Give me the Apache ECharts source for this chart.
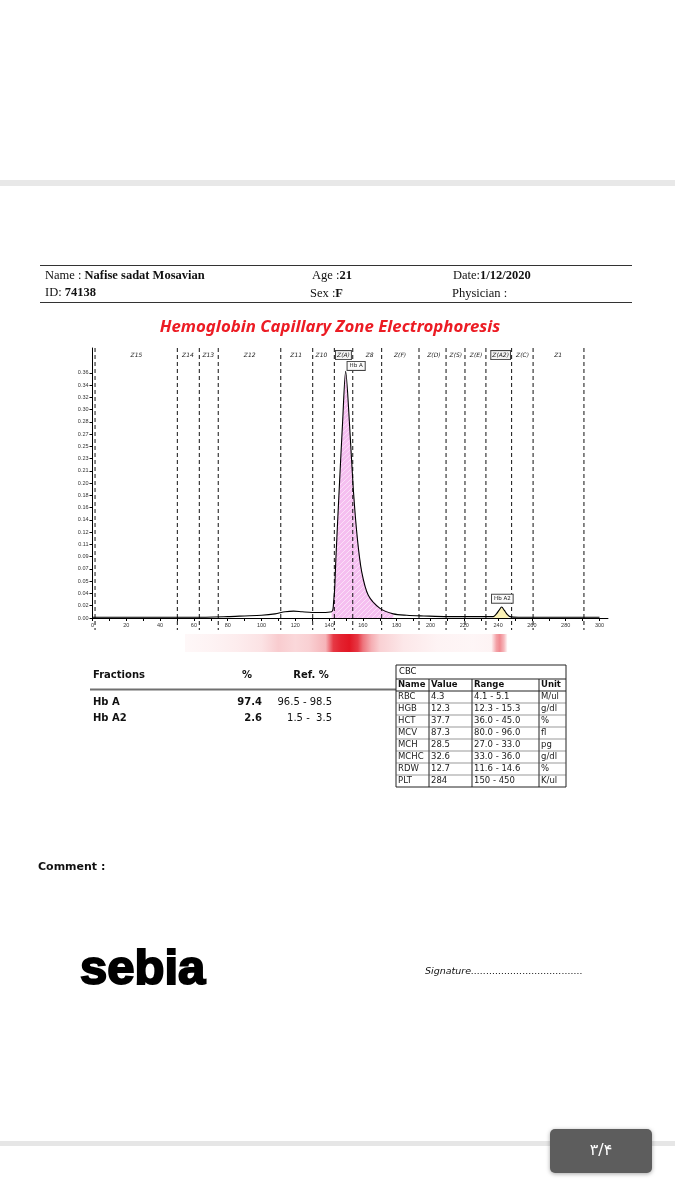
<!DOCTYPE html>
<html><head><meta charset="utf-8">
<script src="https://cdn.jsdelivr.net/npm/echarts@6/dist/echarts.min.js"></script>
<style>html,body{margin:0;padding:0;background:#fff}#c{width:675px;height:1200px}</style>
</head><body><div id="c"></div>
<script>
// ---------- data ----------
const curveX = [0,20,40,60,80,90,100,108,114,119,124,130,136,141.5,142.3,142.6,143.3,144.1,146.0,148.0,149.8,152.0,154.3,156.7,159.3,163.2,170.1,178,186,196,210,230,237,239,240.5,242.1,243.7,245.5,247,252,270,300];
const curveY = [0.001,0.001,0.001,0.001,0.002,0.003,0.004,0.006,0.009,0.010,0.009,0.008,0.008,0.009,0.013,0.021,0.043,0.091,0.188,0.285,0.358,0.285,0.188,0.116,0.067,0.033,0.014,0.006,0.004,0.003,0.002,0.002,0.002,0.006,0.011,0.016,0.011,0.005,0.002,0.001,0.001,0.001];
const hbARange = [141.5, 178];
const hbA2Range = [237, 247];
const zoneBounds = [1.5,50.2,63.2,74.4,111.4,130.3,143.1,154.0,171.1,193.2,209.2,220.4,232.8,248.0,260.7,290.8];
const zoneNames = ['Z15','Z14','Z13','Z12','Z11','Z10','Z(A)','Z8','Z(F)','Z(D)','Z(S)','Z(E)','Z(A2)','Z(C)','Z1'];
const zoneCenters = [26,56.5,68.5,93,120.5,135.5,148.5,164,182,202,215,227,241.5,254.5,275.5];
const boxedZones = ['Z(A)','Z(A2)'];
const peakNames = ['Hb A','Hb A2'];
const peakLabelX = [156, 242.5];
const peakLabelY = [0.366, 0.028];
const xTickValues = [0,20,40,60,80,100,120,140,160,180,200,220,240,260,280,300];
const xTickLabels = ['0','20','40','60','80','100','120','140','160','180','200','220','240','260','280','300'];
const xMinorTicks = [0,10,20,30,40,50,60,70,80,90,100,110,120,130,140,150,160,170,180,190,200,210,220,230,240,250,260,270,280,290,300];
const yTickValues = [0,0.0178,0.0356,0.0534,0.0712,0.089,0.1068,0.1246,0.1424,0.1602,0.178,0.1958,0.2136,0.2314,0.2492,0.267,0.2848,0.3026,0.3204,0.3382,0.356];
const yTickLabels = ['0.00','0.02','0.04','0.05','0.07','0.09','0.11','0.12','0.14','0.16','0.18','0.20','0.21','0.23','0.25','0.27','0.28','0.30','0.32','0.34','0.36'];
const gelX = [54.7,70,85,100,110,120,128,138,142.5,147,152,157,160,165,170,184,204,225,236,239,241,243.5,245.5];
const gelI = [0.03,0.05,0.08,0.12,0.22,0.17,0.2,0.32,0.85,0.95,1.0,0.85,0.6,0.35,0.2,0.1,0.05,0.04,0.05,0.4,0.5,0.3,0.02];
const fracNames = ['Hb A','Hb A2'];
const fracPct = ['97.4','2.6'];
const fracRef = ['96.5 - 98.5','1.5 -  3.5'];
const cbcHeader = ['Name','Value','Range','Unit'];
const cbcNames = ['RBC','HGB','HCT','MCV','MCH','MCHC','RDW','PLT'];
const cbcValues = ['4.3','12.3','37.7','87.3','28.5','32.6','12.7','284'];
const cbcRanges = ['4.1 - 5.1','12.3 - 15.3','36.0 - 45.0','80.0 - 96.0','27.0 - 33.0','33.0 - 36.0','11.6 - 14.6','150 - 450'];
const cbcUnits = ['M/ul','g/dl','%','fl','pg','g/dl','%','K/ul'];

// ---------- helpers ----------
const X_MAX = 305, Y_MAX = 0.392;
function hatch(bg, fg){
  const c=document.createElement('canvas'); c.width=c.height=5;
  const g=c.getContext('2d'); g.fillStyle=bg; g.fillRect(0,0,5,5);
  g.strokeStyle=fg; g.lineWidth=1; g.beginPath(); g.moveTo(0,5); g.lineTo(5,0); g.stroke();
  return c;
}
const curve = curveX.map((x,i)=>[x,curveY[i]]);
const inRange = r => curve.filter(p=>p[0]>=r[0]&&p[0]<=r[1]);
function nearestLabel(v){
  let best=0; for(let i=1;i<yTickValues.length;i++){ if(Math.abs(yTickValues[i]-v)<Math.abs(yTickValues[best]-v)) best=i; }
  return yTickLabels[best];
}

// ---------- graphic (page texts, tables) ----------
const G = [];
const SERIF = '"Liberation Serif", "DejaVu Serif", serif';
const SANS = '"DejaVu Sans", Verdana, sans-serif';
function txt(x,y,text,opt){ G.push({type:'text', x, y, silent:true, style:Object.assign({text, fill:'#111', font:'11px '+SANS, textAlign:'left', textVerticalAlign:'middle'}, opt||{})}); }
function rect(x,y,w,h,style,extra){ G.push(Object.assign({type:'rect', silent:true, shape:{x,y,width:w,height:h}, style}, extra||{})); }
function line(x1,y1,x2,y2,stroke,w){ G.push({type:'line', silent:true, shape:{x1,y1,x2,y2}, style:{stroke, lineWidth:w||1}}); }

// gray bands
rect(0,180,675,6,{fill:'#e8e8e8'});
rect(0,1141,675,5,{fill:'#e6e6e6'});
// page number box
rect(550,1129,102,44,{fill:'#5d5d5d', shadowBlur:4, shadowColor:'rgba(0,0,0,0.35)', shadowOffsetY:1},{shape:{x:550,y:1129,width:102,height:44,r:5}});
txt(601,1151,'۳/۴',{fill:'#fff', font:'16px "DejaVu Sans", "Noto Sans", sans-serif', textAlign:'center'});

// header
line(40,265.5,632,265.5,'#333',1);
line(40,302.5,632,302.5,'#333',1);
function hdr(x,y,a,b){
  G.push({type:'text', x, y, silent:true, style:{text:'{r|'+a+'}'+(b?'{b|'+b+'}':''), textVerticalAlign:'middle',
    rich:{r:{fontFamily:SERIF, fontSize:12.5, fill:'#111'}, b:{fontFamily:SERIF, fontSize:12.5, fontWeight:'bold', fill:'#111'}}}});
}
hdr(45,276,'Name : ','Nafise sadat Mosavian');
hdr(45,292.5,'ID: ','74138');
hdr(312,276,'Age :','21');
hdr(310,294,'Sex :','F');
hdr(453,276,'Date:','1/12/2020');
hdr(452,293.5,'Physician :','');

// title
txt(330,327,'Hemoglobin Capillary Zone Electrophoresis',{fill:'#ec1c24', font:'italic bold 16.8px "Noto Sans", "DejaVu Sans", sans-serif', textAlign:'center'});

// fractions table
txt(93,675,'Fractions',{font:'bold 10px '+SANS});
txt(247,675,'%',{font:'bold 10px '+SANS, textAlign:'center'});
txt(311,675,'Ref. %',{font:'bold 10px '+SANS, textAlign:'center'});
line(90,689.5,396,689.5,'#707070',2);
fracNames.forEach((n,i)=>{
  const y = 702 + i*16;
  txt(93,y,n,{font:'bold 10px '+SANS});
  txt(262,y,fracPct[i],{font:'bold 10px '+SANS, textAlign:'right'});
  txt(332,y,fracRef[i],{font:'10px '+SANS, textAlign:'right'});
});

// CBC table
const colX = [396,429,472,539,566];
const cTop = 665, cTitleB = 679, cHeadB = 691, rowH = 12;
const cBot = cHeadB + rowH*cbcNames.length;
rect(colX[0],cTop,colX[4]-colX[0],cBot-cTop,{fill:'none', stroke:'#222', lineWidth:1});
line(colX[0],cTitleB,colX[4],cTitleB,'#222',1);
line(colX[0],cHeadB,colX[4],cHeadB,'#222',1);
for(let c=1;c<4;c++) line(colX[c],cTitleB,colX[c],cBot,'#222',1);
for(let r=1;r<cbcNames.length;r++) line(colX[0],cHeadB+rowH*r,colX[4],cHeadB+rowH*r,'#555',0.6);
txt(colX[0]+3,(cTop+cTitleB)/2,'CBC',{font:'8.5px '+SANS});
cbcHeader.forEach((h,c)=>txt(colX[c]+2,(cTitleB+cHeadB)/2,h,{font:'bold 8.5px '+SANS}));
cbcNames.forEach((n,r)=>{
  const y = cHeadB + rowH*(r+0.5);
  [n,cbcValues[r],cbcRanges[r],cbcUnits[r]].forEach((t,c)=>txt(colX[c]+2,y,t,{font:'8.5px '+SANS, fill:'#222'}));
});

// footer
txt(38,867,'Comment :',{font:'bold 11px '+SANS});
txt(80,970,'sebia',{font:'bold 49px "Liberation Sans", Arial, sans-serif', fill:'#000', stroke:'#000', lineWidth:2});
txt(425,972,'Signature.....................................',{font:'italic 9.5px '+SANS, fill:'#111'});

// ---------- chart ----------
const chart = echarts.init(document.getElementById('c'), null, {renderer:'canvas'});
const option = {
  animation:false,
  backgroundColor:'#fff',
  grid:[
    {left:92.5, right:675-(92.5+1.69*X_MAX), top:348, height:270},
    {left:92.5, right:675-(92.5+1.69*X_MAX), top:634, height:18}
  ],
  xAxis:[
    {type:'value', gridIndex:0, min:0, max:X_MAX,
     axisLine:{lineStyle:{color:'#000', width:1}},
     axisTick:{customValues:xMinorTicks, length:3, lineStyle:{color:'#000'}},
     axisLabel:{customValues:xTickValues, fontSize:5.5, color:'#333', margin:4,
       formatter:v=>xTickLabels[xTickValues.indexOf(v)] ?? ''},
     splitLine:{show:false}},
    {type:'value', gridIndex:1, min:0, max:X_MAX, show:false}
  ],
  yAxis:[
    {type:'value', gridIndex:0, min:0, max:Y_MAX,
     axisLine:{show:true, lineStyle:{color:'#000', width:1}},
     axisTick:{show:true, customValues:yTickValues, length:3, lineStyle:{color:'#000'}},
     axisLabel:{customValues:yTickValues, fontSize:5.5, color:'#333', margin:4, formatter:v=>nearestLabel(v)},
     splitLine:{show:false}},
    {type:'value', gridIndex:1, min:0, max:1, show:false}
  ],
  graphic:G,
  series:[
    {type:'line', name:'HbA fill', data:inRange(hbARange), showSymbol:false, lineStyle:{width:0}, silent:true,
     areaStyle:{color:{image:hatch('#f5bff0','#fbe0f8'), repeat:'repeat'}, opacity:1}, z:1},
    {type:'line', name:'HbA2 fill', data:inRange(hbA2Range), showSymbol:false, lineStyle:{width:0}, silent:true,
     areaStyle:{color:'#fbf2b6', opacity:1}, z:1},
    {type:'custom', name:'zones', silent:true, clip:false, z:2,
     data:zoneBounds.map(v=>[v,0]),
     renderItem:(p,api)=>{
       const a = api.coord([api.value(0), Y_MAX]);
       const b = api.coord([api.value(0), 0]);
       return {type:'line', shape:{x1:a[0],y1:a[1],x2:b[0],y2:b[1]+12}, style:{stroke:'#111', lineWidth:1, lineDash:[4,3]}};
     }},
    {type:'line', name:'curve', data:curve, showSymbol:false, smooth:0.3, z:3, silent:true,
     lineStyle:{color:'#000', width:1.1}},
    {type:'custom', name:'zoneLabels', silent:true, clip:false, z:4,
     data:zoneNames.map((n,i)=>[zoneCenters[i],0.3817,n]),
     renderItem:(p,api)=>{
       const c = api.coord([api.value(0), api.value(1)]);
       const name = zoneNames[p.dataIndex];
       const boxed = boxedZones.includes(name);
       return {type:'text', x:c[0], y:c[1], style:{text:name, fill:'#222',
         font:'italic 6px "DejaVu Sans", sans-serif', textAlign:'center', textVerticalAlign:'middle',
         backgroundColor: boxed?'#f4f4f4':null, borderColor: boxed?'#444':null, borderWidth: boxed?1:0, padding: boxed?[1,1]:0}};
     }},
    {type:'custom', name:'peakLabels', silent:true, clip:false, z:5,
     data:peakNames.map((n,i)=>[peakLabelX[i],peakLabelY[i]]),
     renderItem:(p,api)=>{
       const c = api.coord([api.value(0), api.value(1)]);
       return {type:'text', x:c[0], y:c[1], style:{text:peakNames[p.dataIndex], fill:'#222',
         font:'5.5px "DejaVu Sans", sans-serif', textAlign:'center', textVerticalAlign:'middle',
         backgroundColor:'#fafafa', borderColor:'#444', borderWidth:1, padding:[1,2]}};
     }},
    {type:'custom', name:'gel', xAxisIndex:1, yAxisIndex:1, silent:true,
     data:[[gelX[0],0]],
     renderItem:(p,api)=>{
       const x0 = gelX[0], x1 = gelX[gelX.length-1];
       const a = api.coord([x0,1]), b = api.coord([x1,0]);
       const stops = gelX.map((x,i)=>({offset:(x-x0)/(x1-x0), color:'rgba(226,22,36,'+gelI[i]+')'}));
       return {type:'rect', shape:{x:a[0], y:a[1], width:b[0]-a[0], height:b[1]-a[1]},
         style:{fill:new echarts.graphic.LinearGradient(0,0,1,0,stops)}};
     }}
  ]
};
chart.setOption(option);
</script></body></html>
